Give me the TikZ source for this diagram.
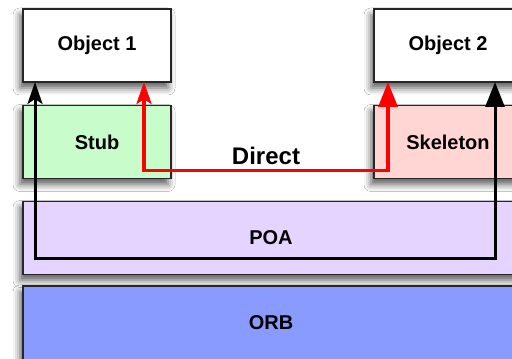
\documentclass[tikz,border=0pt]{standalone}
\usepackage{fontspec}
\setmainfont{Liberation Sans}
\usetikzlibrary{arrows.meta,shadows.blur}

\definecolor{stubgreen}{RGB}{200,252,202}
\definecolor{skelpink}{RGB}{255,214,212}
\definecolor{poaviolet}{RGB}{229,212,255}
\definecolor{orbblue}{RGB}{137,155,255}

\tikzset{
  layer/.style={draw=black!85, line width=1.2pt, minimum height=73pt, outer sep=0pt,
    font=\bfseries\fontsize{20}{23}\selectfont,
    blur shadow={shadow xshift=-3pt, shadow yshift=-6pt, shadow blur radius=7pt, shadow opacity=65}},
  objbox/.style={layer, minimum width=148pt},
  link/.style={line width=3pt, {Stealth[length=22pt, width=15pt, inset=5pt]}-{Triangle[length=25pt, width=19pt]}}
}

\begin{document}
\begin{tikzpicture}[x=1pt, y=1pt]
    \useasboundingbox (0,0) rectangle (512,359);
    \clip (0,0) rectangle (512,359);
    \fill[white] (0,0) rectangle (512,359);

    % objects on top, stub and skeleton below them
    \node[objbox, fill=white] (obj1) at (97,313.5) {Object 1};
    \node[objbox, fill=stubgreen] (stub) at (97,217) {Stub};
    \node[objbox, fill=white] (obj2) at (448,313.5) {Object 2};
    \node[objbox, fill=skelpink] (skel) at (448,217) {Skeleton};

    % adapter and broker layers
    \node[layer, minimum width=496pt, fill=poaviolet] (poa) at (271,121) {POA};
    \node[layer, minimum width=496pt, minimum height=74pt, fill=orbblue] (orb) at (271,36) {ORB};

    \node[font=\bfseries\fontsize{24}{28}\selectfont] (direct) at (266,203) {Direct};

    \coordinate (rbend) at (266,188.5);
    \coordinate (bbend) at (265,100);

    \draw[link, red, line width=3.5pt] ([xshift=47pt]obj1.south) |- (rbend) -| ([xshift=-60pt]obj2.south);
    \draw[link, black] ([xshift=-62pt]obj1.south) |- (bbend) -| ([xshift=47pt]obj2.south);
\end{tikzpicture}
\end{document}
